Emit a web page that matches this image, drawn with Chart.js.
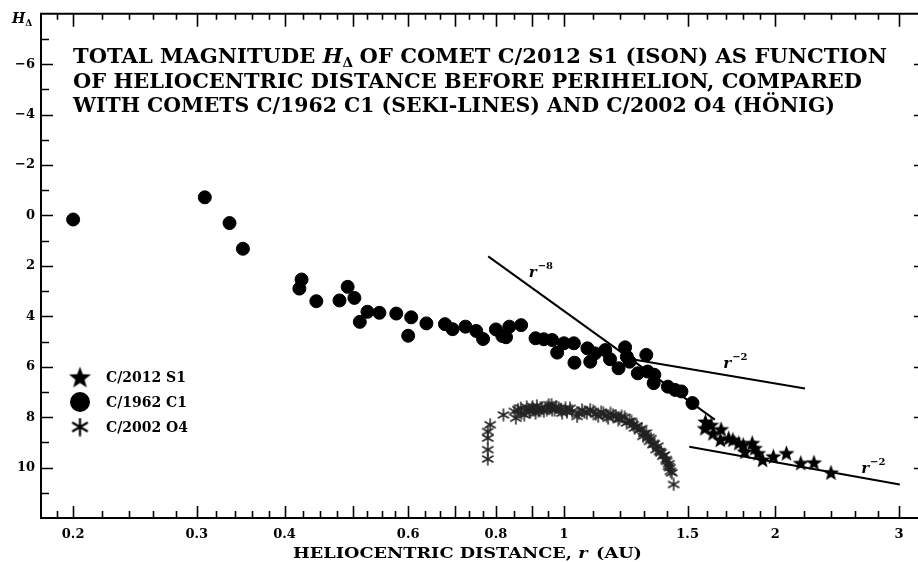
<!DOCTYPE html>
<html>
<head>
<meta charset="utf-8">
<script src="https://cdn.jsdelivr.net/npm/chart.js@4.4.1/dist/chart.umd.min.js"></script>
<style>
html, body { margin: 0; padding: 0; background: #fff; overflow: hidden; }
#wrap { width: 918px; height: 562px; }
</style>
</head>
<body>
<div id="wrap"><canvas id="mainChart" width="918" height="562" style="width:918px;height:562px"></canvas></div>
<script>
// C/1962 C1 (Seki-Lines) - heliocentric distance (AU) and magnitude
const sekiR = [0.200, 0.308, 0.334, 0.349, 0.423, 0.420, 0.444, 0.479, 0.492, 0.503,
  0.512, 0.525, 0.546, 0.577, 0.606, 0.600, 0.637, 0.677, 0.694, 0.724,
  0.750, 0.767, 0.800, 0.817, 0.827, 0.836, 0.869, 0.911, 0.936, 0.962,
  0.978, 1.000, 1.033, 1.035, 1.080, 1.090, 1.107, 1.145, 1.163, 1.196,
  1.222, 1.229, 1.240, 1.274, 1.310, 1.316, 1.345, 1.342, 1.406, 1.440,
  1.470, 1.524];
const sekiH = [0.16, -0.72, 0.30, 1.32, 2.54, 2.90, 3.40, 3.37, 2.83, 3.27,
  4.22, 3.82, 3.86, 3.89, 4.04, 4.77, 4.28, 4.31, 4.51, 4.41,
  4.58, 4.90, 4.52, 4.78, 4.83, 4.41, 4.35, 4.87, 4.91, 4.94,
  5.44, 5.07, 5.07, 5.84, 5.27, 5.80, 5.47, 5.34, 5.70, 6.06,
  5.23, 5.60, 5.80, 6.26, 5.53, 6.19, 6.32, 6.65, 6.79, 6.92,
  6.98, 7.44];

// C/2012 S1 (ISON)
const isonR = [1.590, 1.587, 1.620, 1.630, 1.674, 1.670, 1.716, 1.740, 1.774, 1.800,
  1.810, 1.854, 1.870, 1.890, 1.918, 1.987, 2.074, 2.174, 2.270, 2.400];
const isonH = [8.17, 8.43, 8.30, 8.63, 8.47, 8.89, 8.83, 8.89, 9.02, 9.09,
  9.36, 9.02, 9.22, 9.42, 9.68, 9.55, 9.42, 9.81, 9.79, 10.19];

// C/2002 O4 (Hoenig)
const honigR = [0.779, 0.779, 0.779, 0.779, 0.785, 0.820, 0.850, 0.854, 0.868, 0.878,
  0.892, 0.902, 0.911, 0.926, 0.936, 0.951, 0.962, 0.983, 0.994, 1.005,
  1.027, 1.044, 1.061, 1.078, 1.101, 1.119, 1.138, 1.156, 1.175, 1.195,
  1.208, 1.228, 1.248, 1.261, 1.282, 1.296, 1.310, 1.324, 1.339, 1.353,
  1.368, 1.383, 1.398, 1.409, 1.418, 1.424, 1.433,
  0.860, 0.870, 0.885, 0.895, 0.905, 0.915, 0.920, 0.930, 0.945, 0.955,
  0.960, 0.970, 0.975, 0.990, 1.010, 1.020, 1.050, 1.070, 1.090, 1.110,
  1.130, 1.150, 1.165, 1.185, 1.200, 1.220, 1.240, 1.255, 1.270, 1.290,
  1.300, 1.320, 1.330, 1.345, 1.360, 1.375, 1.390, 1.400, 1.410, 1.415];
const honigH = [8.57, 8.83, 9.29, 9.66, 8.30, 7.91, 7.77, 8.04, 7.64, 7.91,
  7.71, 7.58, 7.84, 7.64, 7.77, 7.51, 7.71, 7.64, 7.84, 7.64,
  7.77, 7.97, 7.71, 7.84, 7.77, 7.97, 7.84, 8.04, 7.91, 8.10,
  7.97, 8.23, 8.17, 8.43, 8.50, 8.76, 8.63, 8.96, 9.09, 9.29,
  9.36, 9.55, 9.68, 9.95, 10.15, 10.21, 10.67,
  7.70, 7.85, 7.60, 7.80, 7.70, 7.55, 7.75, 7.65, 7.70, 7.62,
  7.50, 7.72, 7.58, 7.70, 7.80, 7.65, 7.85, 7.80, 7.70, 7.88,
  7.80, 7.95, 7.85, 7.95, 8.05, 8.00, 8.15, 8.30, 8.35, 8.45,
  8.65, 8.80, 8.85, 9.05, 9.15, 9.40, 9.50, 9.75, 9.85, 10.00];

// fitted power laws (end points)
const fit8R = [0.780, 1.640];
const fit8H = [1.62, 8.10];
const fit2aR = [1.244, 2.204];
const fit2aH = [5.69, 6.86];
const fit2bR = [1.508, 3.008];
const fit2bH = [9.17, 10.67];

// axis ticks
const xLabelTicks = [0.2, 0.3, 0.4, 0.6, 0.8, 1, 1.5, 2, 3];
const xMajor = [0.2, 0.3, 0.4, 0.5, 0.6, 0.7, 0.8, 0.9, 1, 1.5, 2, 3];
const xMinor = [0.19, 0.22, 0.24, 0.26, 0.28, 0.32, 0.34, 0.36, 0.38, 0.425, 0.45, 0.475,
  0.525, 0.55, 0.575, 0.6333, 0.6667, 0.7333, 0.7667, 0.85, 0.95, 1.1, 1.2, 1.3, 1.4,
  1.6, 1.7, 1.8, 1.9, 2.2, 2.4, 2.6, 2.8];
const yLabelTicks = [-6, -4, -2, 0, 2, 4, 6, 8, 10];

const SERIF = '"DejaVu Serif", "Liberation Serif", serif';

// marker images
function makeStar(size) {
  const c = document.createElement('canvas');
  c.width = size; c.height = size;
  const g = c.getContext('2d');
  const cx = size / 2, cy = size / 2 + size * 0.05, R = size / 2, r = R * 0.42;
  g.beginPath();
  for (let i = 0; i < 10; i++) {
    const ang = -Math.PI / 2 + i * Math.PI / 5;
    const rad = i % 2 ? r : R;
    g.lineTo(cx + rad * Math.cos(ang), cy + rad * Math.sin(ang));
  }
  g.closePath();
  g.fillStyle = '#000';
  g.fill();
  return c;
}
function makeAsterisk(size, lw, color) {
  const c = document.createElement('canvas');
  c.width = size; c.height = size;
  const g = c.getContext('2d');
  const cx = size / 2, cy = size / 2, R = size / 2 - 0.5;
  g.strokeStyle = color;
  g.lineWidth = lw;
  g.beginPath();
  [90, 30, -30].forEach((d) => {
    const a = d * Math.PI / 180;
    g.moveTo(cx - R * Math.cos(a), cy - R * Math.sin(a));
    g.lineTo(cx + R * Math.cos(a), cy + R * Math.sin(a));
  });
  g.stroke();
  return c;
}
const starImg = makeStar(17);
const astImg = makeAsterisk(14, 1.5, '#222');
const starBig = makeStar(23);
const astBig = makeAsterisk(19, 2.2, '#000');

const pts = (xs, ys) => xs.map((v, i) => ({ x: v, y: ys[i] }));
const lineSet = (xs, ys) => ({
  data: pts(xs, ys), showLine: true, pointRadius: 0, borderColor: '#000',
  borderWidth: 2, fill: false, order: 5,
});

// Ticks drawn inward, like the original frame
const frameTicks = {
  id: 'frameTicks',
  afterDraw(chart) {
    const ctx = chart.ctx, a = chart.chartArea;
    const xs = chart.scales.x, ys = chart.scales.y;
    ctx.save();
    ctx.strokeStyle = '#000';
    ctx.lineWidth = 2;
    ctx.beginPath();
    ctx.moveTo(a.left - 1, a.top); ctx.lineTo(918, a.top);
    ctx.moveTo(a.left - 1, a.bottom); ctx.lineTo(918, a.bottom);
    ctx.moveTo(a.left, a.top); ctx.lineTo(a.left, a.bottom);
    ctx.stroke();
    ctx.lineWidth = 1.6;
    ctx.beginPath();
    xMajor.forEach((v) => {
      const p = Math.round(xs.getPixelForValue(v)) + 0.5;
      ctx.moveTo(p, a.bottom); ctx.lineTo(p, a.bottom - 12);
      ctx.moveTo(p, a.top); ctx.lineTo(p, a.top + 13);
    });
    xMinor.forEach((v) => {
      const p = Math.round(xs.getPixelForValue(v)) + 0.5;
      ctx.moveTo(p, a.bottom); ctx.lineTo(p, a.bottom - 7);
      ctx.moveTo(p, a.top); ctx.lineTo(p, a.top + 6);
    });
    for (let v = -7; v <= 11; v++) {
      const p = Math.round(ys.getPixelForValue(v)) + 0.5;
      const major = v % 2 === 0;
      ctx.moveTo(a.left, p); ctx.lineTo(a.left + (major ? 12 : 8), p);
      if (major) { ctx.moveTo(918, p); ctx.lineTo(914, p); }
    }
    ctx.stroke();
    ctx.restore();
  },
};

function drawRuns(ctx, x, y, runs) {
  runs.forEach((r) => {
    ctx.font = r.font;
    ctx.fillText(r.t, x, y + (r.dy || 0));
    x += ctx.measureText(r.t).width + (r.gap || 0);
  });
  return x;
}
function runsWidth(ctx, runs) {
  let w = 0;
  runs.forEach((r) => { ctx.font = r.font; w += ctx.measureText(r.t).width + (r.gap || 0); });
  return w;
}
// draw a line of runs squeezed to a given width
function drawFitted(ctx, x, y, width, runs) {
  const sx = width / runsWidth(ctx, runs);
  ctx.save();
  ctx.translate(x, 0);
  ctx.scale(sx, 1);
  drawRuns(ctx, 0, y, runs);
  ctx.restore();
}

// Texts: title, legend, power-law labels, axis titles
const annotations = {
  id: 'annotations',
  afterDraw(chart) {
    const ctx = chart.ctx;
    const xs = chart.scales.x, ys = chart.scales.y;
    ctx.save();
    ctx.fillStyle = '#000';
    ctx.textBaseline = 'alphabetic';
    ctx.textAlign = 'left';

    // title
    const tb = 'bold 20px ' + SERIF;
    drawFitted(ctx, 73, 63, 814, [
      { t: 'TOTAL MAGNITUDE ', font: tb },
      { t: 'H', font: 'bold italic 20px ' + SERIF },
      { t: '\u0394', font: 'bold 13px ' + SERIF, dy: 4, gap: 6 },
      { t: 'OF COMET C/2012 S1 (ISON) AS FUNCTION', font: tb },
    ]);
    drawFitted(ctx, 73, 87.5, 789, [{ t: 'OF HELIOCENTRIC DISTANCE BEFORE PERIHELION, COMPARED', font: tb }]);
    drawFitted(ctx, 73, 112, 762, [{ t: 'WITH COMETS C/1962 C1 (SEKI-LINES) AND C/2002 O4 (H\u00D6NIG)', font: tb }]);

    // y axis title
    drawRuns(ctx, 12, 23, [
      { t: 'H', font: 'bold italic 14px ' + SERIF },
      { t: '\u0394', font: 'bold 9px ' + SERIF, dy: 3 },
    ]);

    // x axis title
    const xt = [
      { t: 'HELIOCENTRIC DISTANCE, ', font: 'bold 15px ' + SERIF },
      { t: 'r', font: 'bold italic 15px ' + SERIF, gap: 2 },
      { t: ' (AU)', font: 'bold 15px ' + SERIF },
    ];
    drawFitted(ctx, 293, 558, 349, xt);

    // power-law labels
    const lab = (r, h, exp) => {
      const px = xs.getPixelForValue(r), py = ys.getPixelForValue(h);
      drawRuns(ctx, px, py, [
        { t: 'r', font: 'bold italic 15px ' + SERIF, gap: 1 },
        { t: exp, font: 'bold 10px ' + SERIF, dy: -8 },
      ]);
    };
    lab(0.891, 2.45, '\u22128');
    lab(1.686, 6.05, '\u22122');
    lab(2.65, 10.2, '\u22122');

    // legend
    const lf = 'bold 14px ' + SERIF;
    ctx.drawImage(starBig, 80 - starBig.width / 2, 377 - starBig.height / 2);
    ctx.beginPath();
    ctx.arc(80, 402, 10, 0, Math.PI * 2);
    ctx.fill();
    ctx.drawImage(astBig, 80 - astBig.width / 2, 427 - astBig.height / 2);
    const names = chart.data.datasets.filter((d) => d.label).map((d) => d.label);
    names.forEach((n, i) => drawRuns(ctx, 106, 382 + i * 25, [{ t: n, font: lf }]));
    ctx.restore();
  },
};

const config = {
  type: 'scatter',
  data: {
    datasets: [
      {
        label: 'C/2012 S1', data: pts(isonR, isonH), pointStyle: starImg,
        pointRadius: 8, order: 1,
      },
      {
        label: 'C/1962 C1', data: pts(sekiR, sekiH), pointStyle: 'circle',
        pointRadius: 6.5, backgroundColor: '#000', borderColor: '#000', borderWidth: 1, order: 2,
      },
      {
        label: 'C/2002 O4', data: pts(honigR, honigH), pointStyle: astImg,
        pointRadius: 6, order: 3,
      },
      lineSet(fit8R, fit8H),
      lineSet(fit2aR, fit2aH),
      lineSet(fit2bR, fit2bH),
    ],
  },
  options: {
    responsive: false,
    animation: false,
    events: [],
    layout: { padding: { top: 12, right: 1, left: 0, bottom: 0 } },
    plugins: { legend: { display: false }, tooltip: { enabled: false }, title: { display: false } },
    scales: {
      x: {
        type: 'logarithmic', min: 0.18, max: 3.1,
        grid: { display: false, drawTicks: false },
        border: { display: false },
        afterBuildTicks: (s) => { s.ticks = xLabelTicks.map((v) => ({ value: v })); },
        afterFit: (s) => { s.height = 44; },
        ticks: {
          autoSkip: false, maxRotation: 0, padding: 9, color: '#000',
          font: { family: SERIF, weight: 'bold', size: 13 },
          callback: (v) => String(v),
        },
      },
      y: {
        type: 'linear', min: -8, max: 12, reverse: true,
        grid: { display: false, drawTicks: false },
        border: { display: false },
        afterBuildTicks: (s) => { s.ticks = yLabelTicks.map((v) => ({ value: v })); },
        afterFit: (s) => { s.width = 41; },
        ticks: {
          autoSkip: false, padding: 6, color: '#000',
          font: { family: SERIF, weight: 'bold', size: 13 },
          callback: (v) => (v < 0 ? '\u2212' + (-v) : String(v)),
        },
      },
    },
  },
  plugins: [frameTicks, annotations],
};

const mainChart = new Chart(document.getElementById('mainChart'), config);
</script>
</body>
</html>
